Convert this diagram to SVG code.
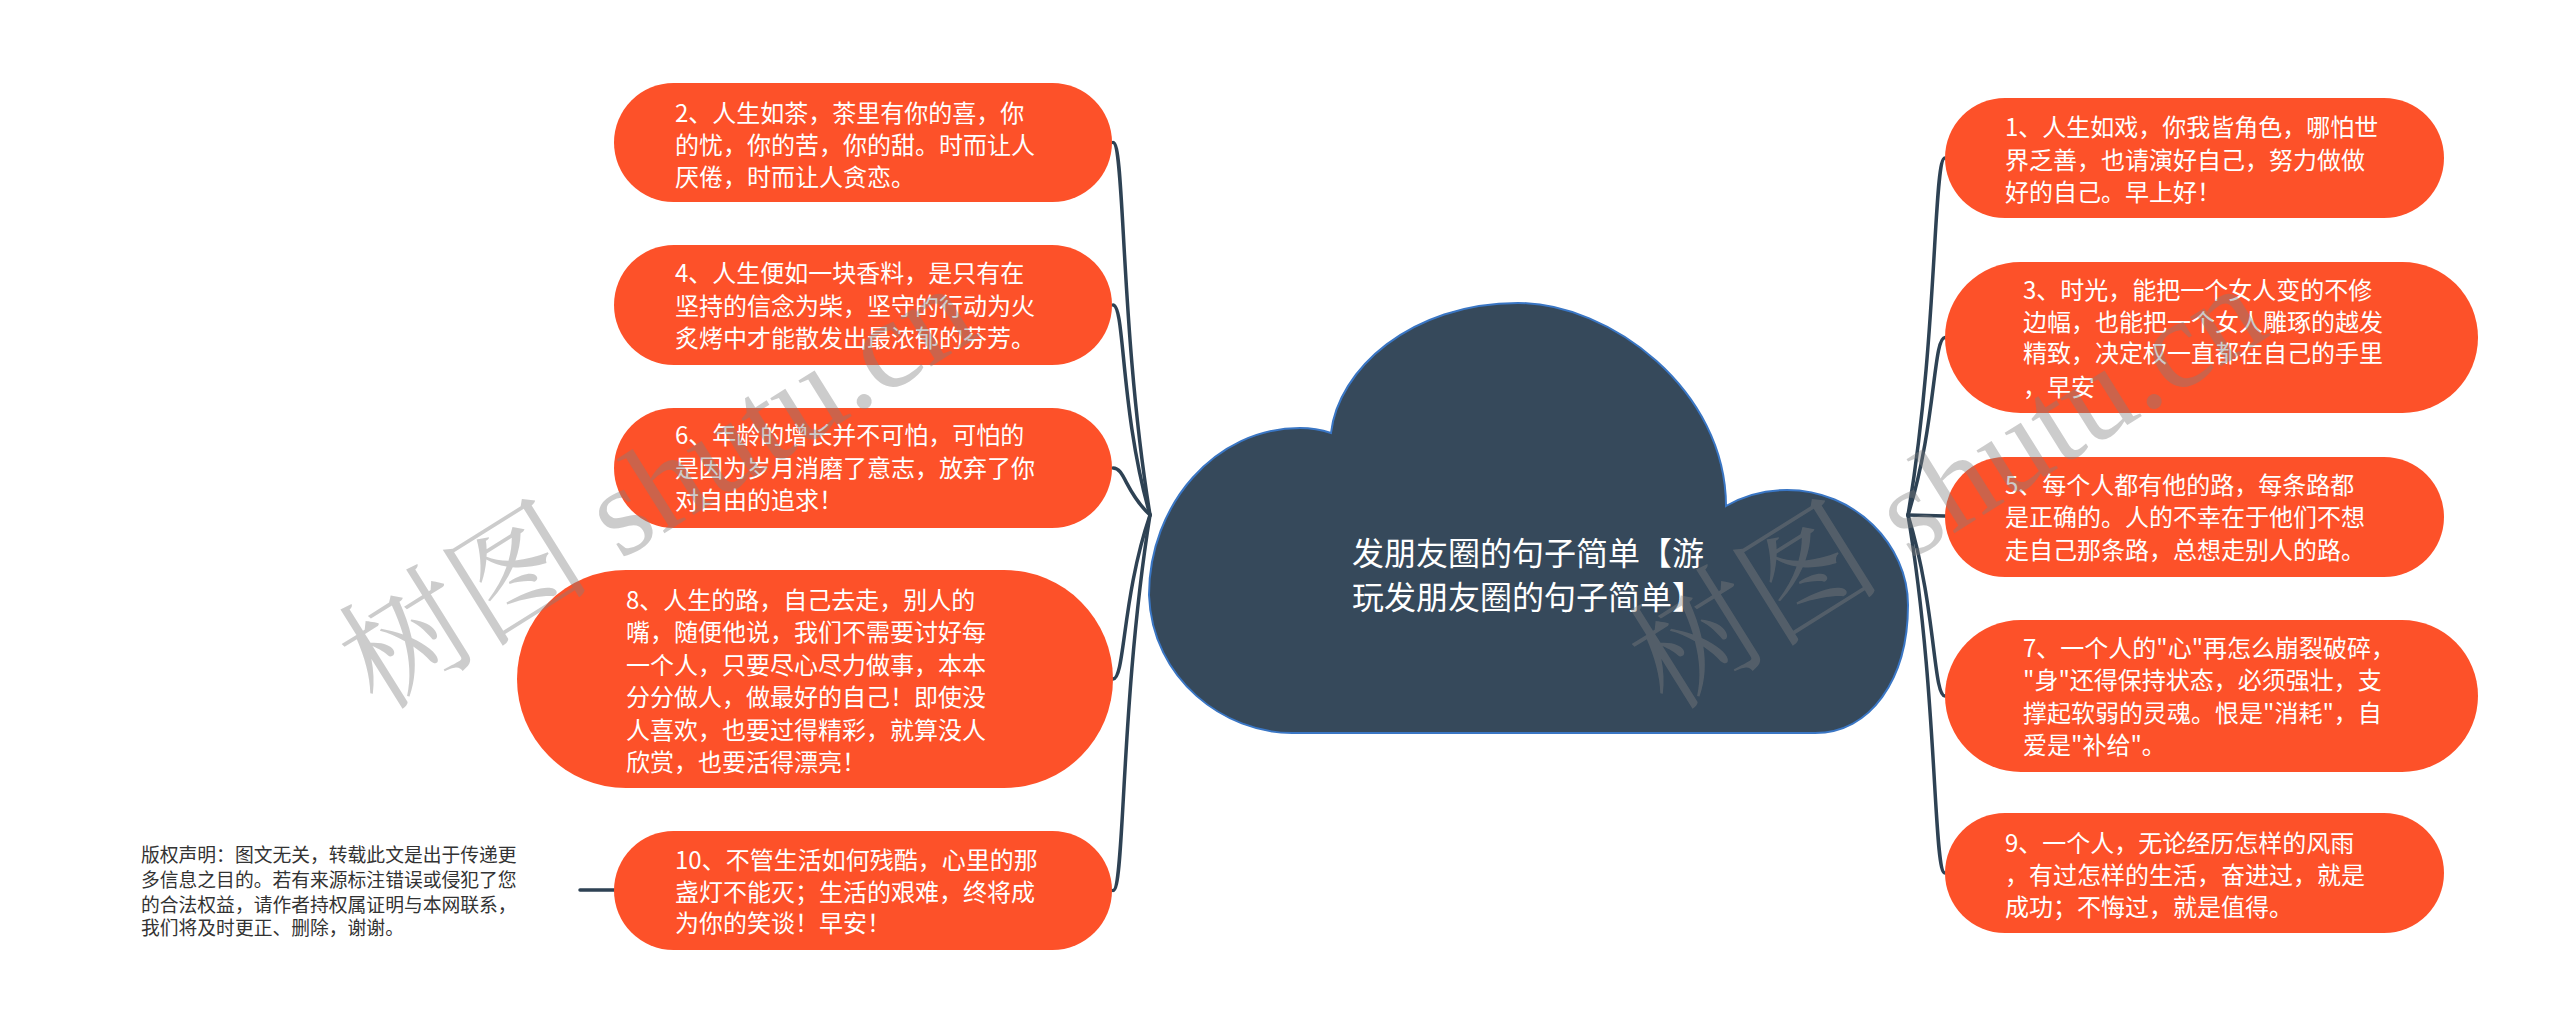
<svg xmlns="http://www.w3.org/2000/svg" width="2560" height="1033" viewBox="0 0 2560 1033">
<style>
.node rect{fill:#fd5129;}
.t{font-family:"Noto Sans CJK SC","Noto Sans",sans-serif;font-size:24px;fill:#ffffff;}
.title{font-family:"Noto Sans CJK SC","Noto Sans",sans-serif;font-size:32px;fill:#ffffff;}
.note{font-family:"Noto Sans CJK SC","Noto Sans",sans-serif;font-size:18.8px;fill:#333333;}
.wm{font-family:"Liberation Serif","Noto Serif CJK SC","Noto Sans CJK SC",serif;font-size:127px;fill:#808080;fill-opacity:0.4;}
#connectors path{fill:none;stroke:#2e4254;stroke-width:3.5;stroke-linecap:round;}
</style>
<rect width="2560" height="1033" fill="#ffffff"/>

<g id="connectors">
<path d="M1113,142.5 C1125,142.5 1120,330 1150,515"/>
<path d="M1113,305 C1125,305 1120,410 1150,515"/>
<path d="M1113,468 C1125,468 1125,492 1150,515"/>
<path d="M1113,679 C1125,679 1122,597 1150,515"/>
<path d="M1113,890.5 C1125,890.5 1120,703 1150,515"/>
<path d="M1945,158 C1933,158 1938,337 1908,515"/>
<path d="M1945,337.5 C1933,337.5 1936,426 1908,515"/>
<path d="M1945,516 L1908,515"/>
<path d="M1945,696 C1933,696 1936,606 1908,515"/>
<path d="M1945,873 C1933,873 1938,694 1908,515"/>
<path d="M580,890 L614,890"/>
</g>

<g id="center">
<path d="M1292,733 C1225,733 1152,680 1149,595 C1149,505 1215,428 1300,428 C1312,428 1322,430 1331,433 C1338,370 1410,303 1518,303 C1610,303 1726,390 1726,506 C1745,495 1765,490 1787,490 C1855,490 1908,545 1908,605 C1908,680 1870,733 1815,733 Z" fill="#36495b" stroke="#3a76c4" stroke-width="2"/>
<text class="title" x="1352" y="565">发朋友圈的句子简单【游</text>
<text class="title" x="1352" y="609">玩发朋友圈的句子简单】</text>
</g>

<g id="node2" class="node">
<rect x="614" y="83" width="498" height="119" rx="59.5"/>
<text class="t" x="675" y="122">2、人生如茶，茶里有你的喜，你</text>
<text class="t" x="675" y="154">的忧，你的苦，你的甜。时而让人</text>
<text class="t" x="675" y="186">厌倦，时而让人贪恋。</text>
</g>
<g id="node4" class="node">
<rect x="614" y="245" width="498" height="120" rx="60"/>
<text class="t" x="675" y="282">4、人生便如一块香料，是只有在</text>
<text class="t" x="675" y="315">坚持的信念为柴，坚守的行动为火</text>
<text class="t" x="675" y="347">炙烤中才能散发出最浓郁的芬芳。</text>
</g>
<g id="node6" class="node">
<rect x="614" y="408" width="498" height="120" rx="60"/>
<text class="t" x="675" y="444">6、年龄的增长并不可怕，可怕的</text>
<text class="t" x="675" y="477">是因为岁月消磨了意志，放弃了你</text>
<text class="t" x="675" y="509">对自由的追求！</text>
</g>
<g id="node8" class="node">
<rect x="517" y="570" width="596" height="218" rx="109"/>
<text class="t" x="626" y="609">8、人生的路，自己去走，别人的</text>
<text class="t" x="626" y="641">嘴，随便他说，我们不需要讨好每</text>
<text class="t" x="626" y="674">一个人，只要尽心尽力做事，本本</text>
<text class="t" x="626" y="706">分分做人，做最好的自己！即使没</text>
<text class="t" x="626" y="739">人喜欢，也要过得精彩，就算没人</text>
<text class="t" x="626" y="771">欣赏，也要活得漂亮！</text>
</g>
<g id="node10" class="node">
<rect x="614" y="831" width="498" height="119" rx="59.5"/>
<text class="t" x="675" y="869">10、不管生活如何残酷，心里的那</text>
<text class="t" x="675" y="901">盏灯不能灭；生活的艰难，终将成</text>
<text class="t" x="675" y="932">为你的笑谈！早安！</text>
</g>

<g id="node1" class="node">
<rect x="1945" y="98" width="499" height="120" rx="60"/>
<text class="t" x="2005" y="136">1、人生如戏，你我皆角色，哪怕世</text>
<text class="t" x="2005" y="169">界乏善，也请演好自己，努力做做</text>
<text class="t" x="2005" y="201">好的自己。早上好！</text>
</g>
<g id="node3" class="node">
<rect x="1945" y="262" width="533" height="151" rx="75.5"/>
<text class="t" x="2023" y="299">3、时光，能把一个女人变的不修</text>
<text class="t" x="2023" y="331">边幅，也能把一个女人雕琢的越发</text>
<text class="t" x="2023" y="362">精致，决定权一直都在自己的手里</text>
<text class="t" x="2023" y="396">，早安</text>
</g>
<g id="node5" class="node">
<rect x="1945" y="457" width="499" height="120" rx="60"/>
<text class="t" x="2005" y="494">5、每个人都有他的路，每条路都</text>
<text class="t" x="2005" y="526">是正确的。人的不幸在于他们不想</text>
<text class="t" x="2005" y="559">走自己那条路，总想走别人的路。</text>
</g>
<g id="node7" class="node">
<rect x="1945" y="620" width="533" height="152" rx="76"/>
<text class="t" x="2023" y="657">7、一个人的"心"再怎么崩裂破碎，</text>
<text class="t" x="2023" y="689">"身"还得保持状态，必须强壮，支</text>
<text class="t" x="2023" y="722">撑起软弱的灵魂。恨是"消耗"，自</text>
<text class="t" x="2023" y="754">爱是"补给"。</text>
</g>
<g id="node9" class="node">
<rect x="1945" y="813" width="499" height="120" rx="60"/>
<text class="t" x="2005" y="852">9、一个人，无论经历怎样的风雨</text>
<text class="t" x="2005" y="884">，有过怎样的生活，奋进过，就是</text>
<text class="t" x="2005" y="916">成功；不悔过，就是值得。</text>
</g>

<g id="copyright">
<text class="note" x="141" y="862">版权声明：图文无关，转载此文是出于传递更</text>
<text class="note" x="141" y="887">多信息之目的。若有来源标注错误或侵犯了您</text>
<text class="note" x="141" y="912">的合法权益，请作者持权属证明与本网联系，</text>
<text class="note" x="141" y="935">我们将及时更正、删除，谢谢。</text>
</g>

<g id="watermarks">
<text class="wm" x="378" y="712" transform="rotate(-32 378 712)">树图 shutu.cn</text>
<text class="wm" x="1668" y="712" transform="rotate(-32 1668 712)">树图 shutu.cn</text>
</g>
</svg>
